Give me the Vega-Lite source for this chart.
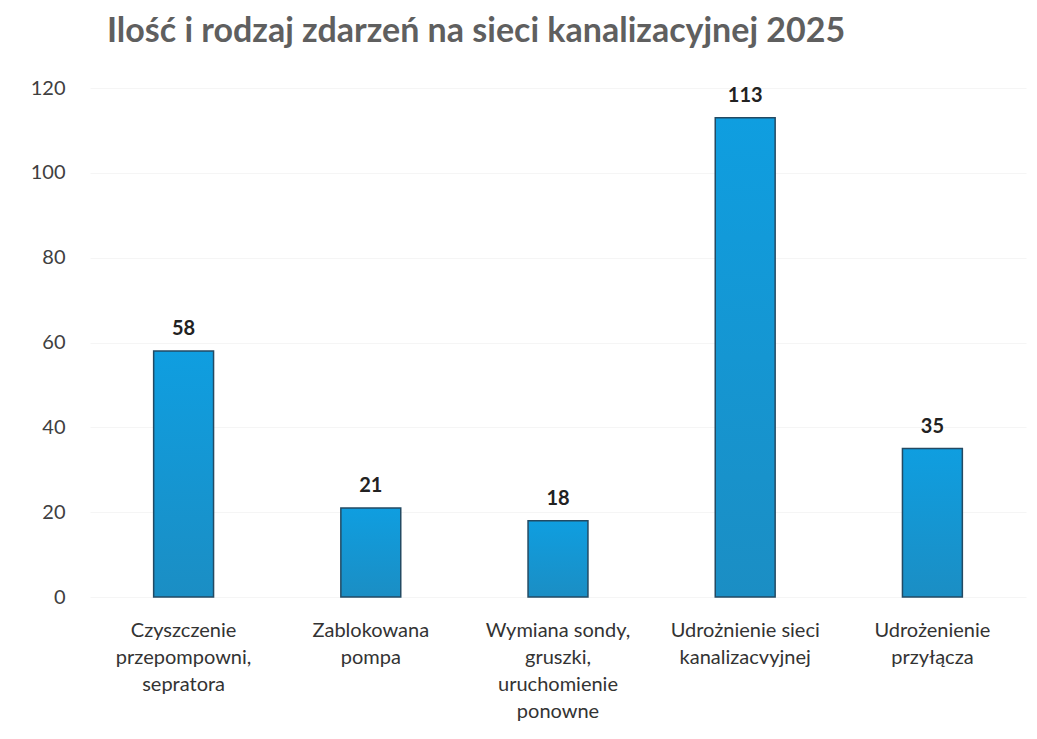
{
  "$schema": "https://vega.github.io/schema/vega-lite/v6.json",
  "autosize": "none",
  "width": 936,
  "height": 509,
  "padding": {"left": 90, "top": 88, "right": 11, "bottom": 142},
  "background": "white",
  "view": {"stroke": null},
  "title": {
    "text": "Ilość i rodzaj zdarzeń na sieci kanalizacyjnej 2025",
    "anchor": "start",
    "frame": "group",
    "dx": 17,
    "dy": 43,
    "baseline": "alphabetic",
    "offset": 45,
    "font": "Lato",
    "fontSize": 34,
    "fontWeight": "bold",
    "color": "#5f5f5f"
  },
  "data": {
    "values": [
      {"category": "Czyszczenie|przepompowni,|sepratora", "value": 58},
      {"category": "Zablokowana|pompa", "value": 21},
      {"category": "Wymiana sondy,|gruszki,|uruchomienie|ponowne", "value": 18},
      {"category": "Udrożnienie sieci|kanalizacvyjnej", "value": 113},
      {"category": "Udrożenienie|przyłącza", "value": 35}
    ]
  },
  "encoding": {
    "x": {
      "field": "category",
      "type": "nominal",
      "sort": null,
      "scale": {"paddingInner": 0.68, "paddingOuter": 0.34},
      "axis": {
        "title": null,
        "labelAngle": 0,
        "labelExpr": "split(datum.label, '|')",
        "labelFont": "Lato",
        "labelFontSize": 20,
        "labelColor": "#333333",
        "labelLineHeight": 27,
        "labelPadding": 39,
        "labelBaseline": "alphabetic",
        "labelLimit": 300,
        "domain": false,
        "ticks": false
      }
    },
    "y": {
      "field": "value",
      "type": "quantitative",
      "scale": {"domain": [0, 120]},
      "axis": {
        "title": null,
        "values": [0, 20, 40, 60, 80, 100, 120],
        "labelFont": "Lato",
        "labelFontSize": 20,
        "labelColor": "#404040",
        "labelPadding": 25,
        "domain": false,
        "ticks": false,
        "grid": true,
        "gridColor": "#f5f5f5",
        "gridWidth": 1
      }
    }
  },
  "layer": [
    {
      "mark": {
        "type": "bar",
        "stroke": "#234a63",
        "strokeWidth": 1.5,
        "color": {
          "gradient": "linear",
          "x1": 0, "y1": 0, "x2": 0, "y2": 1,
          "stops": [
            {"offset": 0, "color": "#0f9ee0"},
            {"offset": 1, "color": "#1b8ec4"}
          ]
        }
      }
    },
    {
      "mark": {
        "type": "text",
        "baseline": "alphabetic",
        "dy": -16,
        "font": "Lato",
        "fontSize": 20,
        "fontWeight": "bold",
        "color": "#222222"
      },
      "encoding": {"text": {"field": "value", "type": "quantitative"}}
    }
  ]
}
